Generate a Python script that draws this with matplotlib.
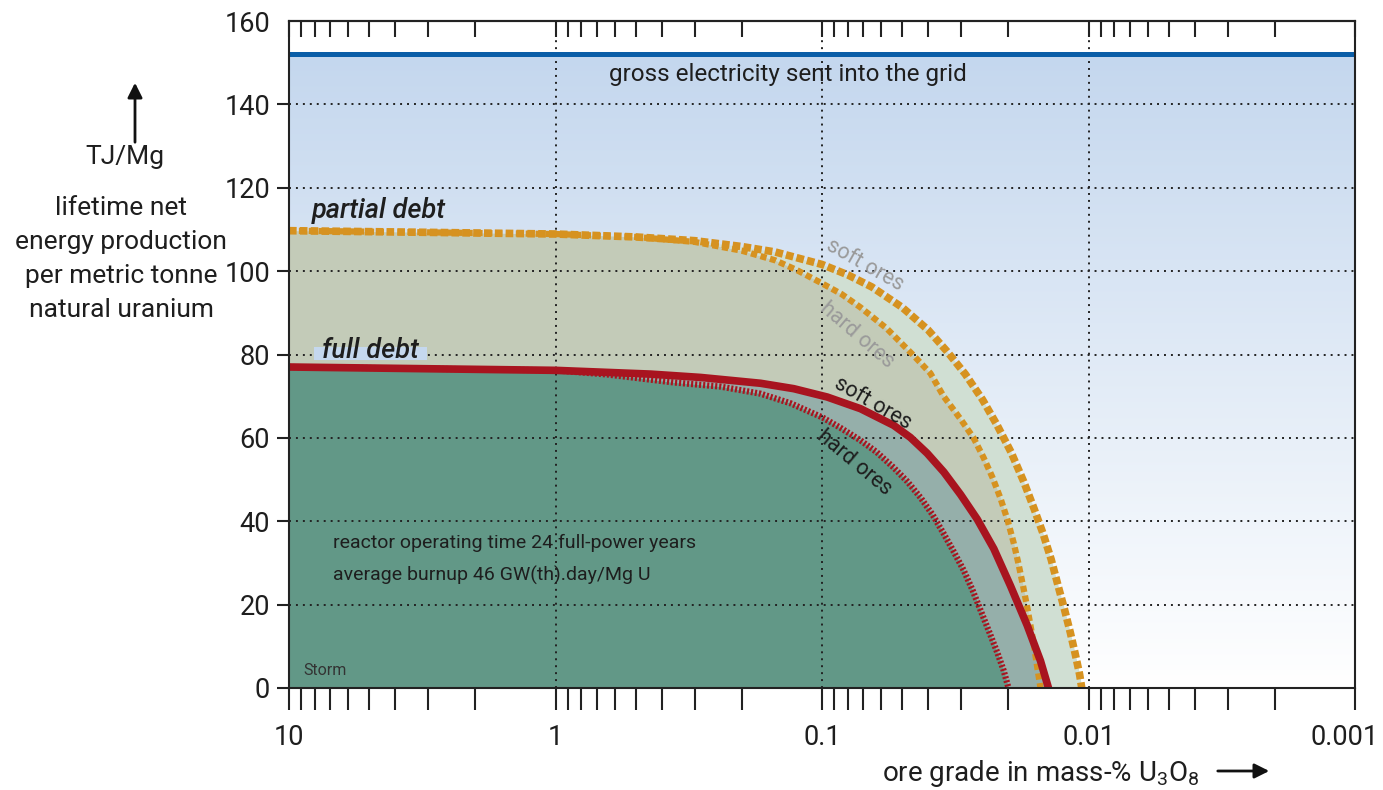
import numpy as np
import matplotlib.pyplot as plt
from matplotlib import ticker, transforms
from matplotlib.colors import LinearSegmentedColormap
from matplotlib.patches import Rectangle

plt.rcParams['font.family'] = ['Roboto', 'DejaVu Sans']
plt.rcParams['mathtext.fontset'] = 'custom'
plt.rcParams['mathtext.rm'] = 'Roboto'
plt.rcParams['lines.scale_dashes'] = False

# ore grade (mass-% U3O8) vs lifetime net energy (TJ/Mg)
gross_value = 152

grade_partial_soft = [10, 3, 1, 0.5, 0.3, 0.2, 0.15, 0.1, 0.08, 0.065, 0.05, 0.04, 0.034,
                      0.029, 0.025, 0.022, 0.0195, 0.0175, 0.016, 0.0148, 0.0138, 0.013,
                      0.0123, 0.0117, 0.0112, 0.0108, 0.0106]
energy_partial_soft = [109.7, 109.3, 108.9, 108.2, 107.3, 105.9, 104.6, 101.6, 99.1, 96.2, 91.3,
                       85.9, 80.8, 75.3, 69.2, 63.0, 56.5, 49.5, 43.0, 37.0, 30.8, 24.5,
                       18.8, 13.3, 8.0, 3.3, 0.0]

grade_partial_hard = [10, 3, 1, 0.5, 0.3, 0.2, 0.15, 0.1247, 0.0996, 0.0845, 0.0717, 0.0573,
                      0.0457, 0.0392, 0.035, 0.0302, 0.027, 0.02477, 0.02292, 0.02139,
                      0.02013, 0.01912, 0.01831, 0.01754, 0.01694, 0.01636, 0.01595,
                      0.01554, 0.01514]
energy_partial_hard = [109.7, 109.3, 108.9, 108.2, 107.0, 104.9, 102.6, 100.3, 97.0, 94.5, 91.3,
                       86.3, 80.0, 75.5, 70.0, 64.5, 60.0, 55.3, 50.5, 45.5,
                       40.3, 35.0, 29.8, 24.0, 19.0, 13.6, 9.4,
                       4.6, 0.0]

grade_full_soft = [10, 1, 0.44, 0.2857, 0.1701, 0.1276, 0.0956, 0.0717, 0.0538, 0.0466,
                   0.0403, 0.0349, 0.0302, 0.02616, 0.02266, 0.01962, 0.01698, 0.01514, 0.01413]
energy_full_soft = [77.0, 76.2, 75.3, 74.5, 73.1, 71.8, 69.8, 67.0, 63.0, 60.1,
                    56.3, 51.8, 46.4, 40.5, 33.4, 24.5, 15.0, 6.5, 0.0]

grade_full_hard = [10, 1, 0.638, 0.3608, 0.2403, 0.1701, 0.1313, 0.0996, 0.0852, 0.0717,
                   0.0624, 0.0539, 0.0478, 0.0427, 0.0385, 0.035, 0.0321, 0.02944,
                   0.02724, 0.02543, 0.02353, 0.02196, 0.02084, 0.01996]
energy_full_hard = [77.0, 76.2, 75.2, 73.3, 72.3, 70.6, 68.3, 64.9, 62.4, 59.4,
                    56.6, 52.9, 49.5, 45.7, 41.6, 37.1, 32.8, 28.3,
                    23.5, 18.7, 13.3, 8.4, 4.3, 0.0]

x_ticks = [10, 1, 0.1, 0.01, 0.001]
y_ticks = [0, 20, 40, 60, 80, 100, 120, 140, 160]

fig = plt.figure(figsize=(13.83, 7.90), dpi=100)
ax = fig.add_axes([289 / 1383, 1 - 688 / 790, (1355 - 289) / 1383, (688 - 21) / 790])
ax.set_xscale('log')
ax.set_xlim(10, 0.001)
ax.set_ylim(0, 160)
ax.set_autoscale_on(False)

# sky gradient under the gross electricity line
grad = np.linspace(1, 0, 256).reshape(-1, 1)
cmap = LinearSegmentedColormap.from_list('bg', ['white', '#c4d7ee'])
ax.imshow(grad, cmap=cmap, vmin=0, vmax=1, extent=(0, 1, 0, gross_value),
          transform=ax.get_yaxis_transform(), aspect='auto', zorder=0.1)

# filled regions
ax.fill_between(grade_partial_soft, energy_partial_soft, 0, color='#d0dfd3', lw=0, zorder=0.2)
ax.fill_between(grade_partial_hard, energy_partial_hard, 0, color='#c3cbb8', lw=0, zorder=0.25)
ax.fill_between(grade_full_soft, energy_full_soft, 0, color='#95afaa', lw=0, zorder=0.3)
ax.fill_between(grade_full_hard, energy_full_hard, 0, color='#629887', lw=0, zorder=0.35)

# grid
ax.set_axisbelow(True)
ax.grid(True, which='major', color='#222222', lw=1.4, linestyle=(0, (1.4, 3.6)))

# curves
ax.plot(grade_partial_soft, energy_partial_soft, color='#d69220', lw=5.5,
        linestyle=(0, (5.5, 2.3)), zorder=2)
ax.plot(grade_partial_hard, energy_partial_hard, color='#d69220', lw=4.5,
        linestyle=(0, (4.5, 2.6)), zorder=2)
ax.plot(grade_full_hard, energy_full_hard, color='#a8141f', lw=4.5,
        linestyle=(0, (1.5, 1.4)), zorder=2.1)
ax.plot(grade_full_soft, energy_full_soft, color='#a8141f', lw=5.5, zorder=2.2,
        solid_capstyle='butt', solid_joinstyle='round')
ax.axhline(gross_value, color='#0a5ea8', lw=3.6, zorder=3)

# axes styling
for s in ax.spines.values():
    s.set_linewidth(1.5)
    s.set_color('#222222')
    s.set_zorder(4)

ax.set_xticks(x_ticks)
ax.xaxis.set_major_formatter(ticker.FuncFormatter(lambda v, p: f'{v:g}'))
ax.xaxis.set_minor_formatter(ticker.NullFormatter())
ax.tick_params(axis='x', which='both', direction='out', length=15.8, width=1.5,
               color='#222222', labelsize=19.5, pad=10, top=False, labelcolor='#1e1e1e')
ax.set_yticks(y_ticks)
ax.tick_params(axis='y', which='both', direction='out', length=8.6, width=1.5,
               color='#222222', labelsize=19.5, pad=5, right=False, labelcolor='#1e1e1e')
ax.yaxis.get_major_ticks()[-1].tick1line.set_visible(False)
last = ax.get_xticklabels()[-1]
last.set_transform(last.get_transform() + transforms.ScaledTranslation(-0.1, 0, fig.dpi_scale_trans))

top = ax.secondary_xaxis('top')
top.set_xticks(x_ticks)
top.xaxis.set_minor_locator(ticker.LogLocator(subs=np.arange(2, 10)))
top.xaxis.set_major_formatter(ticker.NullFormatter())
top.xaxis.set_minor_formatter(ticker.NullFormatter())
top.tick_params(axis='x', which='both', direction='in', length=11.5, width=1.5, color='#222222')
top.spines['top'].set_linewidth(1.5)

# annotations
txt = '#1e1e1e'
ax.text(0.134, 147.1, 'gross electricity sent into the grid', ha='center', va='center',
        fontsize=17.5, color=txt, zorder=5)
ax.text(8.2, 114.5, 'partial debt', ha='left', va='center', fontsize=19.5,
        style='italic', fontweight='medium', color=txt, zorder=5)
ax.add_patch(Rectangle((3.03, 78.6), 5.03, 3.3, facecolor='#c5d8ee', lw=0, zorder=1.5))
ax.text(7.52, 81.0, 'full debt', ha='left', va='center', fontsize=19.5,
        style='italic', fontweight='medium', color=txt, zorder=5)
ax.text(0.069, 101.4, 'soft ores', ha='center', va='center', fontsize=15.5,
        rotation=-29.5, rotation_mode='anchor', color='#9a9a9a', zorder=5)
ax.text(0.074, 84.6, 'hard ores', ha='center', va='center', fontsize=15.5,
        rotation=-40.5, rotation_mode='anchor', color='#9a9a9a', zorder=5)
ax.text(0.0644, 68.2, 'soft ores', ha='center', va='center', fontsize=15.5,
        rotation=-29.9, rotation_mode='anchor', color=txt, zorder=5)
ax.text(0.0759, 54.1, 'hard ores', ha='center', va='center', fontsize=15.5,
        rotation=-39.8, rotation_mode='anchor', color=txt, zorder=5)
ax.text(6.84, 34.7, 'reactor operating time 24 full-power years', ha='left', va='center',
        fontsize=14, color=txt, zorder=5)
ax.text(6.84, 27.1, 'average burnup 46 GW(th).day/Mg U', ha='left', va='center',
        fontsize=14, color=txt, zorder=5)
ax.text(8.86, 4.1, 'Storm', ha='left', va='center', fontsize=11.5, color='#333333', zorder=5)

# left axis label block
fig.text(121 / 1383, 1 - 259 / 790, 'lifetime net\nenergy production\nper metric tonne\nnatural uranium',
         ha='center', va='center', fontsize=19, linespacing=1.53, color=txt)
fig.text(125 / 1383, 1 - 157 / 790, 'TJ/Mg', ha='center', va='center', fontsize=19, color=txt)
ax.annotate('', xy=(135 / 1383, 1 - 80 / 790), xytext=(135 / 1383, 1 - 145 / 790),
            xycoords='figure fraction', textcoords='figure fraction',
            arrowprops=dict(arrowstyle='-|>', lw=2, color='#111111', mutation_scale=22))

# x axis label
fig.text(882 / 1383, 1 - 781 / 790, 'ore grade in mass-% U$_3$O$_8$', ha='left', va='baseline',
         fontsize=20, color=txt)
ax.annotate('', xy=(1272 / 1383, 1 - 771 / 790), xytext=(1215 / 1383, 1 - 771 / 790),
            xycoords='figure fraction', textcoords='figure fraction',
            arrowprops=dict(arrowstyle='-|>', lw=2, color='#111111', mutation_scale=22))

fig.savefig('out.png', dpi=100)
